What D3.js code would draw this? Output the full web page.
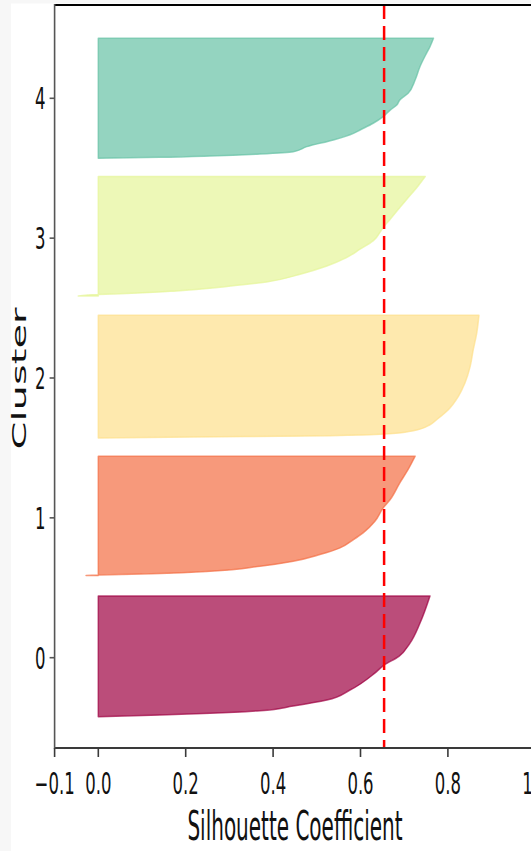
<!DOCTYPE html>
<html><head><meta charset="utf-8">
<script src="https://cdn.jsdelivr.net/npm/d3@7"></script>
<style>html,body{margin:0;padding:0;background:#fff;overflow:hidden}</style>
</head><body>
<svg id="chart" width="531" height="851"></svg>
<script>
// ---- data ----
const clusters = [0, 1, 2, 3, 4];
const clusterColors = ["#9e0142", "#f46d43", "#fee08b", "#e6f598", "#66c2a5"];
const bandTop = [0.441, 1.441, 2.448, 3.441, 4.429];
const bandBottom = [-0.422, 0.587, 1.571, 2.587, 3.571];

// fraction down the band (0 = top, 1 = bottom) and silhouette value there
const rankPos0 = [0, 0.226, 0.392, 0.50, 0.572, 0.641, 0.779, 0.862, 0.911, 0.950, 0.972, 0.986, 1];
const silhouette0 = [0.759, 0.736, 0.713, 0.688, 0.654, 0.632, 0.576, 0.523, 0.446, 0.370, 0.256, 0.141, 0.0];

const rankPos1 = [0, 0.111, 0.223, 0.363, 0.433, 0.545, 0.642, 0.698, 0.768, 0.824, 0.880, 0.922, 0.964, 0.983, 0.994, 1];
const silhouette1 = [0.725, 0.709, 0.690, 0.668, 0.652, 0.633, 0.606, 0.584, 0.553, 0.507, 0.446, 0.370, 0.256, 0.141, 0.0, -0.028];

const rankPos2 = [0, 0.144, 0.280, 0.416, 0.552, 0.660, 0.769, 0.851, 0.892, 0.940, 0.968, 0.981, 0.992, 1];
const silhouette2 = [0.871, 0.866, 0.858, 0.851, 0.839, 0.824, 0.801, 0.774, 0.759, 0.721, 0.656, 0.530, 0.217, 0.0];

const rankPos3 = [0, 0.092, 0.190, 0.260, 0.358, 0.427, 0.539, 0.609, 0.679, 0.749, 0.818, 0.883, 0.921, 0.958, 0.980, 0.988, 1];
const silhouette3 = [0.748, 0.729, 0.706, 0.690, 0.668, 0.652, 0.629, 0.599, 0.568, 0.523, 0.462, 0.385, 0.294, 0.179, 0.065, 0.0, -0.046];

const rankPos4 = [0, 0.07, 0.125, 0.237, 0.348, 0.458, 0.514, 0.556, 0.598, 0.653, 0.708, 0.764, 0.792, 0.847, 0.903, 0.945, 0.964, 0.981, 0.992, 1];
const silhouette4 = [0.767, 0.759, 0.751, 0.736, 0.725, 0.709, 0.690, 0.683, 0.668, 0.652, 0.629, 0.599, 0.584, 0.538, 0.477, 0.446, 0.370, 0.256, 0.141, 0.0];

const rankPositions = [rankPos0, rankPos1, rankPos2, rankPos3, rankPos4];
const silhouetteValues = [silhouette0, silhouette1, silhouette2, silhouette3, silhouette4];

const avgSilhouette = 0.654;
const xTicks = [-0.1, 0.0, 0.2, 0.4, 0.6, 0.8, 1.0];
const xTickLabels = ["\u22120.1", "0.0", "0.2", "0.4", "0.6", "0.8", "1.0"];
const yTicks = [0, 1, 2, 3, 4];
const yTickLabels = ["0", "1", "2", "3", "4"];
const xLabel = "Silhouette Coefficient";
const yLabel = "Cluster";

// ---- layout ----
const plotLeft = 54.6, plotRight = 535.3, plotTop = 5, plotBottom = 748;
const squash = 0.55;
const svg = d3.select("#chart");
const x = d3.scaleLinear().domain([-0.1, 1.0]).range([plotLeft, plotRight]);
const y = d3.scaleLinear().domain([0, 4]).range([657.7, 98.3]);

svg.append("rect").attr("x", 0).attr("y", 0).attr("width", 531).attr("height", 851).attr("fill", "#fff");
svg.append("rect").attr("x", 0).attr("y", 0).attr("width", 11).attr("height", 851).attr("fill", "#f7f7f7");
svg.append("rect").attr("x", 0).attr("y", 0).attr("width", 531).attr("height", 3.5).attr("fill", "#f7f7f7");

svg.append("clipPath").attr("id", "plotclip").append("rect")
  .attr("x", plotLeft).attr("y", plotTop).attr("width", plotRight - plotLeft).attr("height", plotBottom - plotTop);

const g = svg.append("g").attr("clip-path", "url(#plotclip)");
const area = d3.area()
  .y(d => y(d.pos))
  .x0(x(0))
  .x1(d => x(d.val))
  .curve(d3.curveMonotoneY);

clusters.forEach(c => {
  const top = bandTop[c], bot = bandBottom[c];
  const pts = rankPositions[c].map((t, i) => ({ pos: top - t * (top - bot), val: silhouetteValues[c][i] }))
    .sort((a, b) => a.pos - b.pos);
  g.append("path")
    .attr("d", area(pts))
    .attr("fill", clusterColors[c]).attr("fill-opacity", 0.7)
    .attr("stroke", clusterColors[c]).attr("stroke-opacity", 0.7)
    .attr("stroke-width", 1.5).attr("stroke-linejoin", "round");
});

// average line
g.append("line")
  .attr("x1", x(avgSilhouette)).attr("x2", x(avgSilhouette))
  .attr("y1", plotTop).attr("y2", plotBottom)
  .attr("stroke", "#ff0000").attr("stroke-width", 2.5).attr("stroke-dasharray", "14,7");

// spines
svg.append("line").attr("x1", plotLeft).attr("x2", 531).attr("y1", plotTop).attr("y2", plotTop)
  .attr("stroke", "#000").attr("stroke-width", 2);
svg.append("line").attr("x1", plotLeft).attr("x2", 531).attr("y1", plotBottom).attr("y2", plotBottom)
  .attr("stroke", "#3a3a3a").attr("stroke-width", 2);
svg.append("line").attr("x1", plotLeft).attr("x2", plotLeft).attr("y1", plotTop - 1).attr("y2", plotBottom + 1)
  .attr("stroke", "#555").attr("stroke-width", 1.6);

function squashedText(px, py, str, size, anchor, sx) {
  return svg.append("text")
    .attr("transform", `translate(${px},${py}) scale(${sx || squash},1)`)
    .attr("text-anchor", anchor)
    .attr("font-family", "DejaVu Sans")
    .attr("font-size", size)
    .attr("fill", "#111")
    .text(str);
}

// x axis ticks and labels
xTicks.forEach((v, i) => {
  svg.append("line").attr("x1", x(v)).attr("x2", x(v)).attr("y1", plotBottom).attr("y2", plotBottom + 9)
    .attr("stroke", "#3a3a3a").attr("stroke-width", 1.6);
  squashedText(x(v), 794, xTickLabels[i], 30, "middle");
});

// y axis ticks and labels
yTicks.forEach((v, i) => {
  svg.append("line").attr("x1", plotLeft - 5).attr("x2", plotLeft).attr("y1", y(v)).attr("y2", y(v))
    .attr("stroke", "#555").attr("stroke-width", 1.6);
  squashedText(45.5, y(v) + 11, yTickLabels[i], 30, "end");
});

// axis labels
squashedText(295, 840, xLabel, 40, "middle", 0.5);
svg.append("text")
  .attr("transform", `translate(26,378.5) scale(0.5,1) rotate(-90)`)
  .attr("text-anchor", "middle")
  .attr("font-family", "DejaVu Sans")
  .attr("font-size", 40)
  .attr("fill", "#111")
  .text(yLabel);
</script>
</body></html>
